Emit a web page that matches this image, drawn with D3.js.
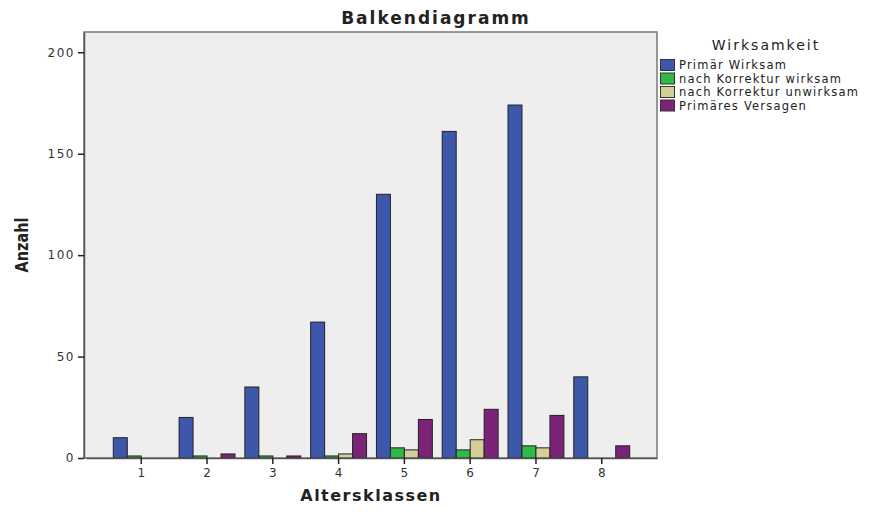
<!DOCTYPE html>
<html>
<head>
<meta charset="utf-8">
<script src="https://cdn.jsdelivr.net/npm/d3@7"></script>
<style>
  body { margin: 0; background: #fff; }
  text { font-family: "DejaVu Sans", Verdana, sans-serif; }
</style>
</head>
<body>
<div id="chart"></div>
<script>
const categories = ["1", "2", "3", "4", "5", "6", "7", "8"];
const seriesNames = ["Primär Wirksam", "nach Korrektur wirksam", "nach Korrektur unwirksam", "Primäres Versagen"];
const primaerWirksam = [10, 20, 35, 67, 130, 161, 174, 40];
const korrekturWirksam = [1, 1, 1, 1, 5, 4, 6, 0];
const korrekturUnwirksam = [0, 0, 0, 2, 4, 9, 5, 0];
const primaeresVersagen = [0, 2, 1, 12, 19, 24, 21, 6];
const yTicks = [0, 50, 100, 150, 200];
const colors = ["#3d58aa", "#2fba48", "#d4cf98", "#7b2477"];

const allSeries = [primaerWirksam, korrekturWirksam, korrekturUnwirksam, primaeresVersagen];

const W = 877, H = 512;
const plot = {left: 84, top: 32, right: 657, bottom: 458};

const svg = d3.select("#chart")
  .append("svg")
    .attr("width", W)
    .attr("height", H);

// plot background
svg.append("rect")
  .attr("x", plot.left)
  .attr("y", plot.top)
  .attr("width", plot.right - plot.left)
  .attr("height", plot.bottom - plot.top)
  .attr("fill", "#eeeeee")
  .attr("stroke", "#777")
  .attr("stroke-width", 1.5);

const x = d3.scaleBand()
  .domain(categories)
  .range([plot.left + 2, plot.right])
  .paddingInner(0.15)
  .paddingOuter(0.415);

const xSub = d3.scaleBand()
  .domain(seriesNames)
  .range([0, x.bandwidth()]);

const y = d3.scaleLinear()
  .domain([0, 210])
  .range([plot.bottom, plot.top]);

// bars
const groups = svg.selectAll("g.grp")
  .data(categories)
  .join("g")
    .attr("class", "grp")
    .attr("transform", d => `translate(${x(d)},0)`);

groups.selectAll("rect")
  .data((c, i) => seriesNames.map((s, k) => ({s: s, k: k, v: allSeries[k][i]})))
  .join("rect")
    .filter(d => d.v > 0)
    .attr("x", d => xSub(d.s))
    .attr("y", d => y(d.v))
    .attr("width", xSub.bandwidth())
    .attr("height", d => y(0) - y(d.v))
    .attr("fill", d => colors[d.k])
    .attr("stroke", "#222")
    .attr("stroke-width", 1);

// y axis
const yAxis = svg.append("g")
  .attr("transform", `translate(${plot.left},0)`)
  .call(d3.axisLeft(y).tickValues(yTicks).tickSize(6).tickSizeOuter(0).tickPadding(3));
yAxis.select(".domain").attr("stroke", "#555").attr("stroke-width", 1.5);
yAxis.selectAll(".tick line").attr("stroke", "#222").attr("stroke-width", 1.5);
yAxis.selectAll(".tick text")
  .attr("font-size", 12)
  .attr("fill", "#333")
  .style("letter-spacing", "1.5px");

// x axis
const xAxis = svg.append("g")
  .attr("transform", `translate(0,${plot.bottom})`)
  .call(d3.axisBottom(x).tickSize(6).tickSizeOuter(0).tickPadding(4));
xAxis.select(".domain").attr("stroke", "#555").attr("stroke-width", 1.5);
xAxis.selectAll(".tick line").attr("stroke", "#222").attr("stroke-width", 1.5);
xAxis.selectAll(".tick text")
  .attr("font-size", 12)
  .attr("fill", "#333");

// title and axis labels
svg.append("text")
  .attr("x", 436)
  .attr("y", 24)
  .attr("text-anchor", "middle")
  .attr("font-size", 17)
  .attr("font-weight", "bold")
  .attr("fill", "#222")
  .style("letter-spacing", "2px")
  .text("Balkendiagramm");

svg.append("text")
  .attr("x", 371)
  .attr("y", 501)
  .attr("text-anchor", "middle")
  .attr("font-size", 16)
  .attr("font-weight", "bold")
  .attr("fill", "#222")
  .style("letter-spacing", "1.5px")
  .text("Altersklassen");

svg.append("text")
  .attr("transform", "translate(28,245) rotate(-90) scale(0.85,1)")
  .attr("text-anchor", "middle")
  .attr("font-size", 17)
  .attr("font-weight", "bold")
  .attr("fill", "#222")
  .text("Anzahl");

// legend
svg.append("text")
  .attr("x", 766)
  .attr("y", 50)
  .attr("text-anchor", "middle")
  .attr("font-size", 14)
  .attr("fill", "#222")
  .style("letter-spacing", "2px")
  .text("Wirksamkeit");

const legend = svg.selectAll("g.leg")
  .data(seriesNames)
  .join("g")
    .attr("class", "leg")
    .attr("transform", (d, i) => `translate(660,${59 + i * 13.5})`);

legend.append("rect")
  .attr("x", 0.5)
  .attr("y", 0.5)
  .attr("width", 14)
  .attr("height", 11)
  .attr("fill", (d, i) => colors[i])
  .attr("stroke", "#333");

legend.append("text")
  .attr("x", 19)
  .attr("y", 10)
  .attr("font-size", 11.5)
  .attr("fill", "#222")
  .style("letter-spacing", "1.2px")
  .text(d => d);
</script>
</body>
</html>
